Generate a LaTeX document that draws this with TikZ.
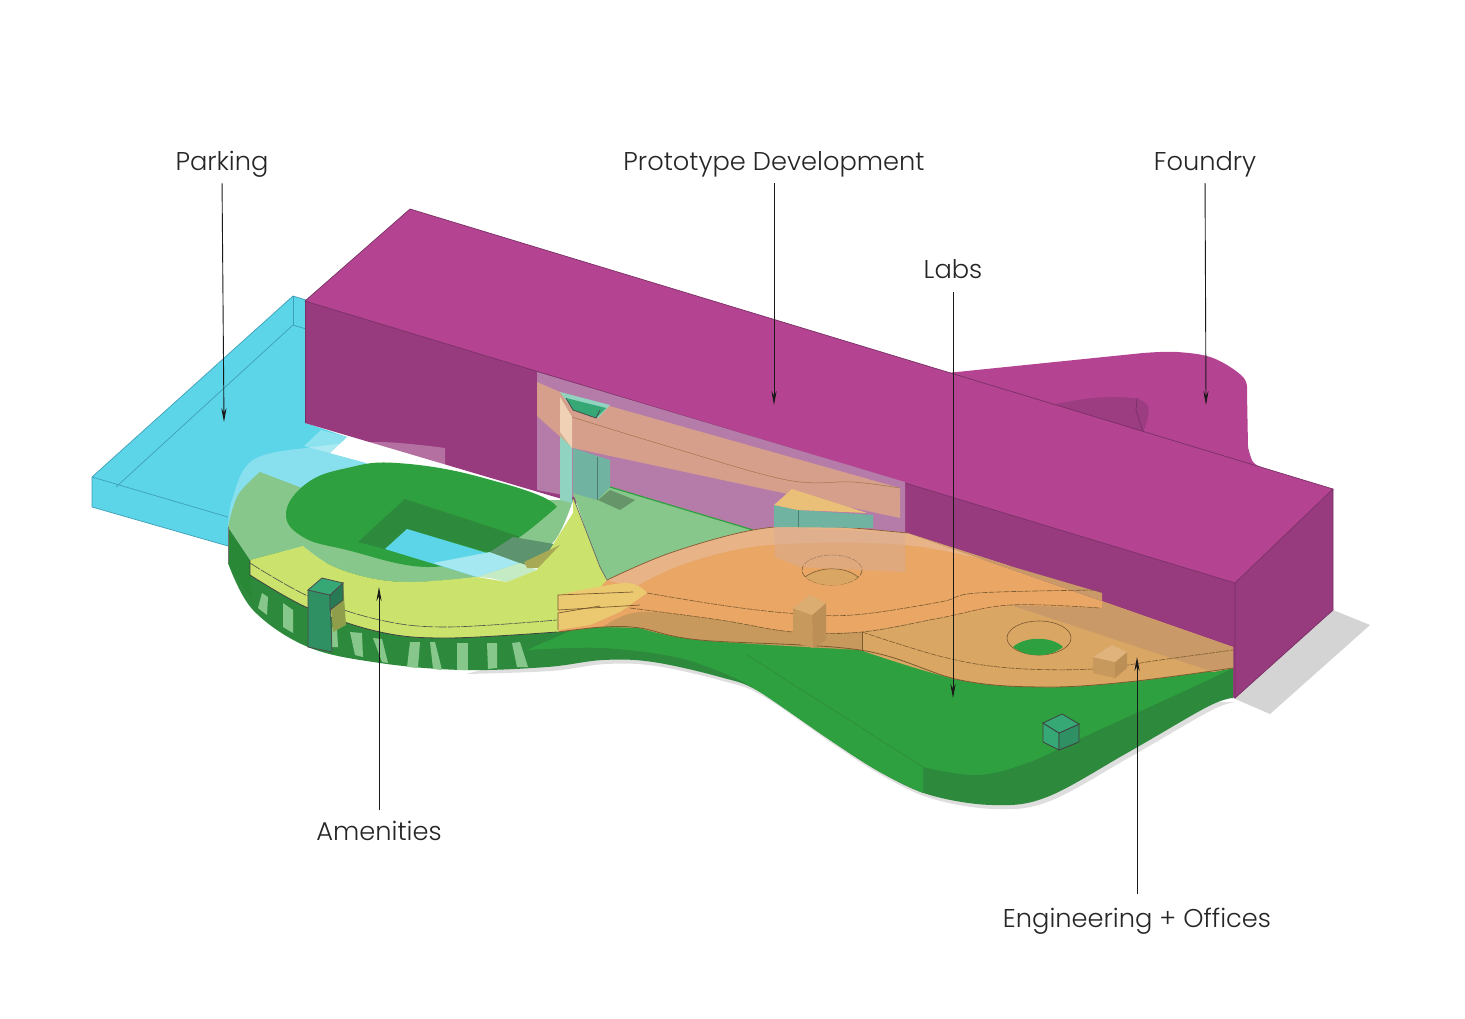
\documentclass[tikz,border=0pt]{standalone}
\usepackage{fontspec}
\setmainfont{Poppins}[UprightFont=* Light]
\usetikzlibrary{arrows.meta}
\definecolor{cPark}{HTML}{5CD5E8}
\definecolor{cParkLn}{HTML}{3E9FB8}
\definecolor{cMagTop}{HTML}{B44492}
\definecolor{cMagSide}{HTML}{983B7E}
\definecolor{cGlass}{HTML}{B67CA9}
\definecolor{cGrn}{HTML}{2FA03F}
\definecolor{cGrnDk}{HTML}{2D8A3C}
\definecolor{cGrnLt}{HTML}{87C78B}
\definecolor{cTeal}{HTML}{6FB3A0}
\definecolor{cTealLt}{HTML}{8FD3C0}
\definecolor{cTower}{HTML}{2E9063}
\definecolor{cTowerTop}{HTML}{36A876}
\definecolor{cYel}{HTML}{CBE26C}
\definecolor{cYelOr}{HTML}{EBC971}
\definecolor{cOr}{HTML}{E9A665}
\definecolor{cOrLt}{HTML}{E8B386}
\definecolor{cTan}{HTML}{D9A664}
\definecolor{cTanDk}{HTML}{C99A68}
\definecolor{cBrn}{HTML}{7A5A30}
\begin{document}
\begin{tikzpicture}[x=0.5pt,y=-0.5pt,>=Stealth,
  lab/.style={font=\fontsize{12.85}{15}\selectfont,text=black!85,inner sep=0pt,anchor=base},
  lead/.style={-{Stealth[length=7pt,width=2.6pt]},line width=0.45pt,black!90},
  mline/.style={draw=cMagSide!80!black,line width=0.35pt},
  pline/.style={draw=cParkLn,line width=0.35pt},
  dline/.style={draw=cBrn,line width=0.3pt,dash pattern=on 3pt off 0.6pt},
  sm/.style={smooth,tension=0.6}]
\useasboundingbox (0,0) rectangle (1465,1018);
\fill[white] (0,0) rectangle (1465,1018);
% ---------- shadow ----------
\fill[black!17] (1333,610)--(1370,625)--(1270,714)--(1233,698)--cycle;
\fill[black!13,shift={(3,4)}] plot[sm] coordinates {(463,670)(547,667)(603,660)(653,662)(720,677)(760,692)(830,740)(880,772)(930,795)(993,805)(1047,797)(1127,753)(1207,707)(1233,698)}--(900,700)--(650,620)--cycle;
% ---------- parking ----------
\fill[cPark] (92,477)--(293,296)--(306,300)--(306,423)--(347,437)--(330,453)--(367,463)--(300,560)--(228,546)--(92,507)--cycle;
\draw[pline] (92,477)--(293,296)--(306,300);
\draw[pline] (92,477)--(92,507)--(228,546);
\draw[pline] (92,477)--(228,517);
\draw[pline] (116,487)--(293,325)--(306,329);
\draw[pline] (293,296)--(293,325);
% ---------- foundry ----------
\fill[cMagTop] (947,373)--(1143,353)--plot[sm] coordinates {(1143,353)(1177,352)(1213,358)(1243,377)(1247,393)}--(1248,447)--plot[sm] coordinates {(1248,447)(1253,462)(1263,468)}--cycle;
\fill[cMagSide!85!cMagTop] (1050,405)--plot[sm] coordinates {(1050,405)(1093,398)(1133,398)(1147,405)(1148,417)(1143,432)}--cycle;
\draw[mline] (1137,398)--(1136,410)--(1143,432);
% ---------- main block ----------
\fill[cMagTop] (410,209)--(1333,489)--(1235,583)--(305,301)--cycle;
\fill[cMagSide] (305,301)--(1235,583)--(1235,698)--(305,423)--cycle;
\fill[cMagSide] (1235,583)--(1333,489)--(1333,610)--(1235,698)--cycle;
\draw[mline] (410,209)--(1333,489)--(1235,583)--(305,301)--cycle;
\draw[mline] (1235,583)--(1235,698)--(1333,610)--(1333,489);
\draw[mline] (305,301)--(305,423);
\fill[cGlass] (537,372)--(905,482)--(905,560)--(537,490)--cycle;
% ---------- gap under the block ----------
\fill[white] (347,437)--(330,453)--(367,463)--(420,480)--(560,505)--(560,500)--cycle;
\fill[cPark!70!white] (304,446)--(321,430)--(347,437)--(330,453)--cycle;
\fill[white,opacity=0.27] (228,530)--plot[sm] coordinates {(228,530)(232,500)(253,460)(313,447)(380,442)(445,448)}--(445,470)--(400,490)--(300,500)--cycle;
% ---------- base ----------
\fill[cGrnDk] (228,527)--(228,563)--plot[sm] coordinates {(228,563)(253,610)(308,647)(380,663)(463,670)(547,667)(603,660)(653,662)(720,677)(760,692)(830,740)(880,772)(930,795)(993,805)(1047,797)(1127,753)(1207,707)(1233,698)}--(1233,668)--(640,600)--(300,560)--cycle;
\fill[cGrn] (527,650)--plot[sm] coordinates {(527,650)(603,648)(680,658)(735,678)}--plot[sm] coordinates {(735,678)(760,692)(830,740)(880,772)(923,793)}--(923,767)--plot[sm] coordinates {(923,767)(977,775)(1027,763)(1077,740)(1193,687)(1233,668)}--(1233,655)--(640,600)--cycle;
\draw[cGrnDk,line width=0.3pt] (747,655)--(923,767);
\fill[cGrn!85!black] (228,530)--(228,563)--(252,600)--(250,560)--cycle;
% stripes on the wall
\foreach \a/\b/\c/\d/\e/\f/\g/\h in {262/593/268/597/267/615/258/608,283/603/293/610/293/633/283/627,332/627/337/627/338/647/332/647,350/632/362/633/363/657/355/655,373/638/382/639/388/663/382/662,410/642/420/642/418/668/407/667,430/642/435/642/442/670/433/669,457/643/468/643/468/670/457/670,487/643/497/643/497/668/488/669,512/643/520/642/528/667/517/667}{
  \fill[cGrnLt] (\a,\b)--(\c,\d)--(\e,\f)--(\g,\h)--cycle;}
% ---------- green ring ----------
\fill[cGrnLt] (260,472)--plot[sm] coordinates {(260,472)(238,495)(228,527)}--(250,560)--(303,546)--plot[sm] coordinates {(303,546)(330,565)(370,578)(413,582)(477,577)(520,567)(555,540)(573,500)}--(500,500)--(307,490)--cycle;
\draw[black!55,line width=0.3pt] (228,527)--(228,563);
\fill[cGrn] plot[smooth cycle,tension=0.7] coordinates {(286,513)(307,483)(347,468)(397,463)(480,477)(557,507)(520,537)(490,552)(427,567)(347,550)(303,537)};
\fill[cGrnDk] (358,542)--(405,499)--(530,540)--(505,557)--(407,529)--(385,549)--cycle;
\fill[cPark] (385,549)--(407,529)--(520,563)--(477,577)--cycle;
\fill[cPark!55!white] (433,563)--(490,552)--(520,563)--(477,577)--cycle;
\fill[cGrnLt] (557,507)--plot[sm] coordinates {(557,507)(520,537)(490,552)}--(520,563)--(555,540)--(573,500)--cycle;
\fill[cGrnLt!70!black!90!cPark] (490,552)--(513,537)--(560,545)--(537,567)--(520,563)--cycle;
\fill[cYel!60!cPark!60!white] (477,577)--(520,563)--(537,570)--(507,582)--(490,578)--cycle;
% ---------- court and tower ----------
\fill[cGrnLt] (573,493)--(610,487)--(753,530)--(720,575)--(608,580)--(600,570)--cycle;
\draw[cGrn,line width=0.6pt] (610,487)--(753,530);
\fill[cGrnLt!75!black] (610,490)--(635,500)--(620,510)--(598,500)--cycle;
\fill[cTealLt] (560,433)--(572,447)--(572,503)--(560,500)--cycle;
\fill[cTeal] (573,448)--(610,460)--(610,487)--(597,500)--(573,493)--cycle;
\draw[cTeal!70!black,line width=0.3pt] (597,457)--(597,500);
% ---------- amenities ----------
\fill[cYel] (250,560)--(303,546)--plot[sm] coordinates {(303,546)(330,565)(370,578)(413,582)(477,577)}--(507,582)--(537,570)--(573,513)--(573,497)--(600,567)--(607,580)--(647,593)--(630,610)--(557,632)--plot[sm] coordinates {(557,632)(447,638)(380,632)(308,608)(250,575)}--cycle;
\draw[black!60,line width=0.35pt] (573,497)--(600,567)--(607,580);
\draw[black!75,line width=0.4pt] (250,560)--(250,575)--plot[sm] coordinates {(250,575)(308,608)(380,632)(447,638)(557,632)};
\draw[black!70,line width=0.3pt,dash pattern=on 6pt off 0.6pt] plot[sm] coordinates {(250,563)(310,597)(380,620)(447,627)(557,620)};
\fill[cYel!75!black!80!cOr] (524,562)--(560,545)--(538,568)--(527,568)--cycle;
% ---------- labs ----------
\fill[cOr] (607,580)--plot[sm] coordinates {(607,580)(670,553)(753,530)(820,526)(907,533)}--(1233,647)--(1233,668)--plot[sm] coordinates {(1233,668)(1127,682)(1043,687)(960,680)(860,650)(700,640)(640,628)(603,627)(558,632)}--cycle;
\fill[cOrLt] (607,580)--plot[sm] coordinates {(607,580)(670,553)(753,530)(820,526)(907,533)}--(1010,566)--plot[sm] coordinates {(1010,566)(905,545)(770,545)(687,563)(633,588)}--cycle;
\fill[cTanDk] (907,533)--(1233,647)--(1233,668)--(1213,672)--(1007,605)--(1102,608)--(1102,593)--(1010,566)--cycle;
\fill[cTan] (862,632)--plot[sm] coordinates {(862,632)(940,618)(1010,605)}--(1213,672)--(1233,668)--plot[sm] coordinates {(1233,668)(1127,682)(1043,687)(960,680)(860,650)}--cycle;
\fill[cTan!92!black] (603,627)--plot[sm] coordinates {(603,627)(640,612)(720,620)(793,632)(862,632)}--(862,650)--plot[sm] coordinates {(862,650)(700,640)(640,628)}--cycle;
\draw[cOr!55!black,line width=0.35pt] plot[sm] coordinates {(607,580)(670,553)(753,530)(820,526)(907,533)};
\draw[cBrn,line width=0.35pt] (862,632)--(862,650);
\draw[cBrn,line width=0.4pt] plot[sm] coordinates {(1233,668)(1127,682)(1043,687)(960,680)(860,650)(700,640)(640,628)(603,627)(558,632)};
% overlap with amenities
\fill[cYelOr] (558,595)--plot[sm] coordinates {(558,595)(625,583)(647,593)}--(620,612)--(590,625)--(558,630)--cycle;
\draw[cBrn,line width=0.35pt] (633,592)--(558,595)--(558,610)--(640,605);
\draw[cBrn,line width=0.35pt] (600,606)--(558,613)--(558,630);
% thin plan lines
\draw[dline] plot[sm] coordinates {(647,593)(720,605)(787,613)(853,615)(940,602)(977,593)(1100,590)};
\draw[dline] plot[sm] coordinates {(630,608)(720,620)(793,632)(862,632)(940,618)(1010,605)(1100,608)};
\draw[dline] plot[sm] coordinates {(862,632)(943,657)(1010,668)(1093,669)(1160,660)(1233,650)};
% holes
\draw[dline] (832,570) ellipse (30 and 15);
\fill[cTan] (805,577) .. controls (820,566) and (845,566) .. (858,577) .. controls (845,588) and (820,588) .. (805,577)--cycle;
\draw[cBrn,line width=0.3pt] (805,577) .. controls (820,566) and (845,566) .. (858,577);
\draw[cBrn,line width=0.3pt] (1039,638) ellipse (32 and 17);
\fill[cGrn] (1013,647) .. controls (1025,636) and (1052,636) .. (1063,647) .. controls (1050,658) and (1027,658) .. (1013,647)--cycle;
% ---------- prototype wing, seen through ----------
\fill[cOrLt!80!cTan!90!cGlass,opacity=0.75] (537,382)--(560,392)--(900,488)--(900,518)--(573,448)--(537,416)--cycle;
\fill[cOrLt!60!white] (560,397)--(572,417)--(572,448)--(560,432)--cycle;
\draw[cOr!70!black,line width=0.25pt] plot[sm] coordinates {(572,417)(670,447)(787,480)(853,482)(900,488)};
\fill[cTealLt] (560,392)--(610,405)--(598,418)--(573,410)--cycle;
\fill[cTowerTop] (566,398)--(606,408)--(596,418)--(573,410)--cycle;
\draw[black!70,line width=0.4pt] (566,398)--(573,410)--(596,418)--(600,410);
\fill[cTeal] (774,505)--(798,510)--(873,515)--(873,528)--(774,527)--cycle;
\draw[cTeal!70!black,line width=0.3pt] (798,510)--(798,527);
\fill[cYelOr!60!cOrLt] (774,505)--(792,489)--(867,513)--(798,510)--cycle;
\fill[cTan!65!cGlass!80!white,opacity=0.5] (774,527)--(905,533)--(905,572)--(800,567)--(775,557)--cycle;
% ---------- small boxes ----------
\fill[cTan!92!black] (793,608)--(812,615)--(813,648)--(793,642)--cycle;
\fill[cTan!86!black] (812,615)--(826,603)--(826,640)--(813,648)--cycle;
\fill[cTan!92!white] (793,608)--(810,595)--(826,603)--(812,615)--cycle;
\fill[cTan!92!black] (1093,657)--(1115,662)--(1115,678)--(1093,673)--cycle;
\fill[cTan!86!black] (1115,662)--(1127,652)--(1127,668)--(1115,678)--cycle;
\fill[cTan!85!white] (1093,657)--(1112,645)--(1127,652)--(1115,662)--cycle;
% ---------- stair tower and cube ----------
\fill[cYel!70!black] (330,595)--(343,583)--(346,625)--(333,632)--cycle;
\fill[cTower,draw=black!70,line width=0.4pt] (308,590)--(330,595)--(332,652)--(308,647)--cycle;
\fill[cTower!85!black,draw=black!70,line width=0.4pt] (330,595)--(343,583)--(343,600)--(330,610)--cycle;
\fill[cTowerTop,draw=black!70,line width=0.4pt] (308,590)--(322,578)--(343,583)--(330,595)--cycle;
\fill[cTowerTop,draw=black!75,line width=0.4pt] (1043,723)--(1059,733)--(1059,750)--(1043,742)--cycle;
\fill[cTower,draw=black!75,line width=0.4pt] (1059,733)--(1079,724)--(1079,742)--(1059,750)--cycle;
\fill[cTowerTop,draw=black!75,line width=0.4pt] (1043,723)--(1062,714)--(1079,724)--(1059,733)--cycle;
% ---------- labels ----------
\node[lab] (parking) at (222,170) {Parking};
\node[lab] (proto) at (774,170) {Prototype Development};
\node[lab] (foundry) at (1205,170) {Foundry};
\node[lab] (labs) at (953,278) {Labs};
\node[lab] (amen) at (379,840) {Amenities};
\node[lab] (eng) at (1137,927) {Engineering + Offices};
\coordinate (parkEnd) at (224,422);
\coordinate (protoEnd) at (774,405);
\coordinate (foundryEnd) at (1206,405);
\coordinate (labsEnd) at (953,698);
\coordinate (amenEnd) at (379,587);
\coordinate (engEnd) at (1137,657);
\foreach \a/\b/\gap in {parking/parkEnd/3,proto/protoEnd/3,foundry/foundryEnd/3,labs/labsEnd/6.5}{
  \draw[lead,shorten <=\gap pt] (\a.south) -- (\b);}
\foreach \a/\b/\gap in {amen/amenEnd/5,eng/engEnd/6.5}{
  \draw[lead,shorten <=\gap pt] (\a.north) -- (\b);}
\end{tikzpicture}
\end{document}
